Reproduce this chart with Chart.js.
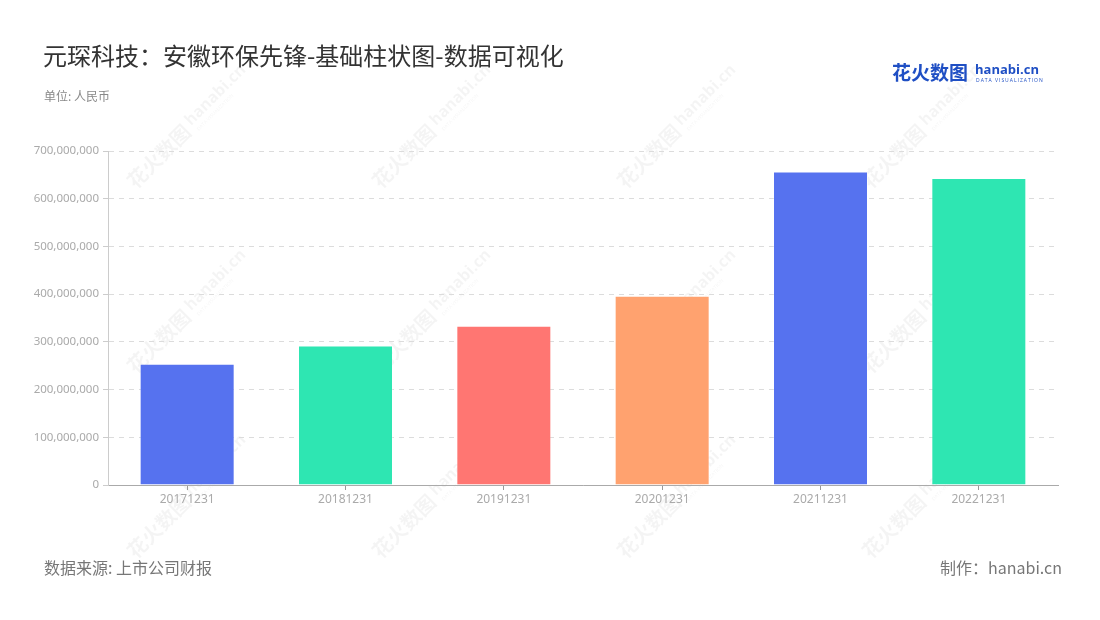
<!DOCTYPE html>
<html>
<head>
<meta charset="utf-8">
<script src="https://cdn.jsdelivr.net/npm/chart.js@4"></script>
<style>
  body { margin: 0; background: #fff; font-family: "Noto Sans CJK SC", "Noto Sans", sans-serif; }
  #wrap { position: relative; width: 1100px; height: 620px; }
  #grafico { position: absolute; left: 0; top: 0; }
  .titulo { position: absolute; left: 43px; top: 37px; font-size: 24px; font-weight: 400; color: #333; line-height: 36px; }
  .unidade { position: absolute; left: 44px; top: 87px; font-size: 12px; color: #888; }
  .fonte { position: absolute; left: 44px; top: 555px; font-size: 16px; color: #777; }
  .autor { position: absolute; right: 38px; top: 555px; font-size: 16px; color: #777; }
  .logo { position: absolute; left: 892px; top: 58px; height: 28px; }
  .logo .cn { position: absolute; left: 0; top: 0; font-size: 19px; font-weight: bold; color: #1f4fc4; white-space: nowrap; letter-spacing: 0px; }
  .logo .en { position: absolute; left: 83px; top: 2px; font-size: 13px; font-weight: bold; color: #1f4fc4; font-family: "Open Sans", sans-serif; }
  .logo .sub { position: absolute; left: 84px; top: 19px; font-size: 5px; color: #1f4fc4; letter-spacing: 1px; font-family: "Open Sans", sans-serif; white-space: nowrap; }
</style>
</head>
<body>
<div id="wrap">
  <canvas id="grafico" width="1100" height="620"></canvas>
  <div class="titulo">元琛科技：安徽环保先锋-基础柱状图-数据可视化</div>
  <div class="unidade">单位: 人民币</div>
  <div class="logo"><span class="cn">花火数图</span><span class="en">hanabi.cn</span><span class="sub">DATA VISUALIZATION</span></div>
  <div class="fonte">数据来源: 上市公司财报</div>
  <div class="autor">制作：hanabi.cn</div>
</div>
<script>
// Dados do gráfico
const periodos = ['20171231', '20181231', '20191231', '20201231', '20211231', '20221231'];
const receitas = [254000000, 292500000, 333700000, 396400000, 657000000, 643500000];
const coresBarras = ['#5672EF', '#2EE6B2', '#FF7672', '#FFA26F', '#5672EF', '#2EE6B2'];

// Marca d'água (fundo)
const marcaDagua = {
    id: 'marcaDagua',
    beforeDraw(chart) {
        const ctx = chart.ctx;
        ctx.save();
        ctx.fillStyle = 'rgba(0,0,0,0.045)';
        for (let y = 135; y < 620; y += 185) {
            for (let x = 180; x < 1100; x += 245) {
                ctx.save();
                ctx.translate(x, y);
                ctx.rotate(-Math.PI / 4);
                ctx.font = 'bold 20px "Noto Sans CJK SC"';
                ctx.textBaseline = 'middle';
                ctx.fillText('花火数图', -70, 0);
                ctx.font = 'bold 16px "Open Sans"';
                ctx.fillText('hanabi.cn', 14, -3);
                ctx.font = '5px "Open Sans"';
                ctx.fillText('DATA VISUALIZATION', 16, 9);
                ctx.restore();
            }
        }
        ctx.restore();
    }
};

const config = {
    type: 'bar',
    data: {
        labels: periodos,
        datasets: [{
            data: receitas,
            backgroundColor: coresBarras,
            borderColor: 'rgba(255,255,255,0.25)',
            borderWidth: 1,
            barPercentage: 0.6,
            categoryPercentage: 1
        }]
    },
    options: {
        responsive: false,
        animation: false,
        layout: { padding: { top: 151, right: 42, left: 0, bottom: 0 } },
        plugins: {
            legend: { display: false },
            tooltip: { enabled: false }
        },
        scales: {
            x: {
                afterFit(scale) { scale.height = 135; },
                grid: { display: true, drawOnChartArea: false, offset: false, tickLength: 5, color: '#999' },
                border: { color: '#aaa', width: 1 },
                ticks: { color: '#aaa', font: { size: 12, family: 'Noto Sans' }, padding: 2 }
            },
            y: {
                min: 0,
                max: 700000000,
                afterFit(scale) { scale.width = 108; },
                grid: { color: '#dcdcdc', tickLength: 5, tickColor: '#ccc' },
                border: { color: '#ccc', width: 1, dash: [5, 5] },
                ticks: {
                    stepSize: 100000000,
                    color: '#aaa',
                    padding: 4,
                    font: { size: 11.5, family: 'Noto Sans' },
                    callback: v => v.toLocaleString('en-US')
                }
            }
        }
    },
    plugins: [marcaDagua]
};

window.onload = function() {
    const ctx = document.getElementById('grafico').getContext('2d');
    new Chart(ctx, config);
};
</script>
</body>
</html>
